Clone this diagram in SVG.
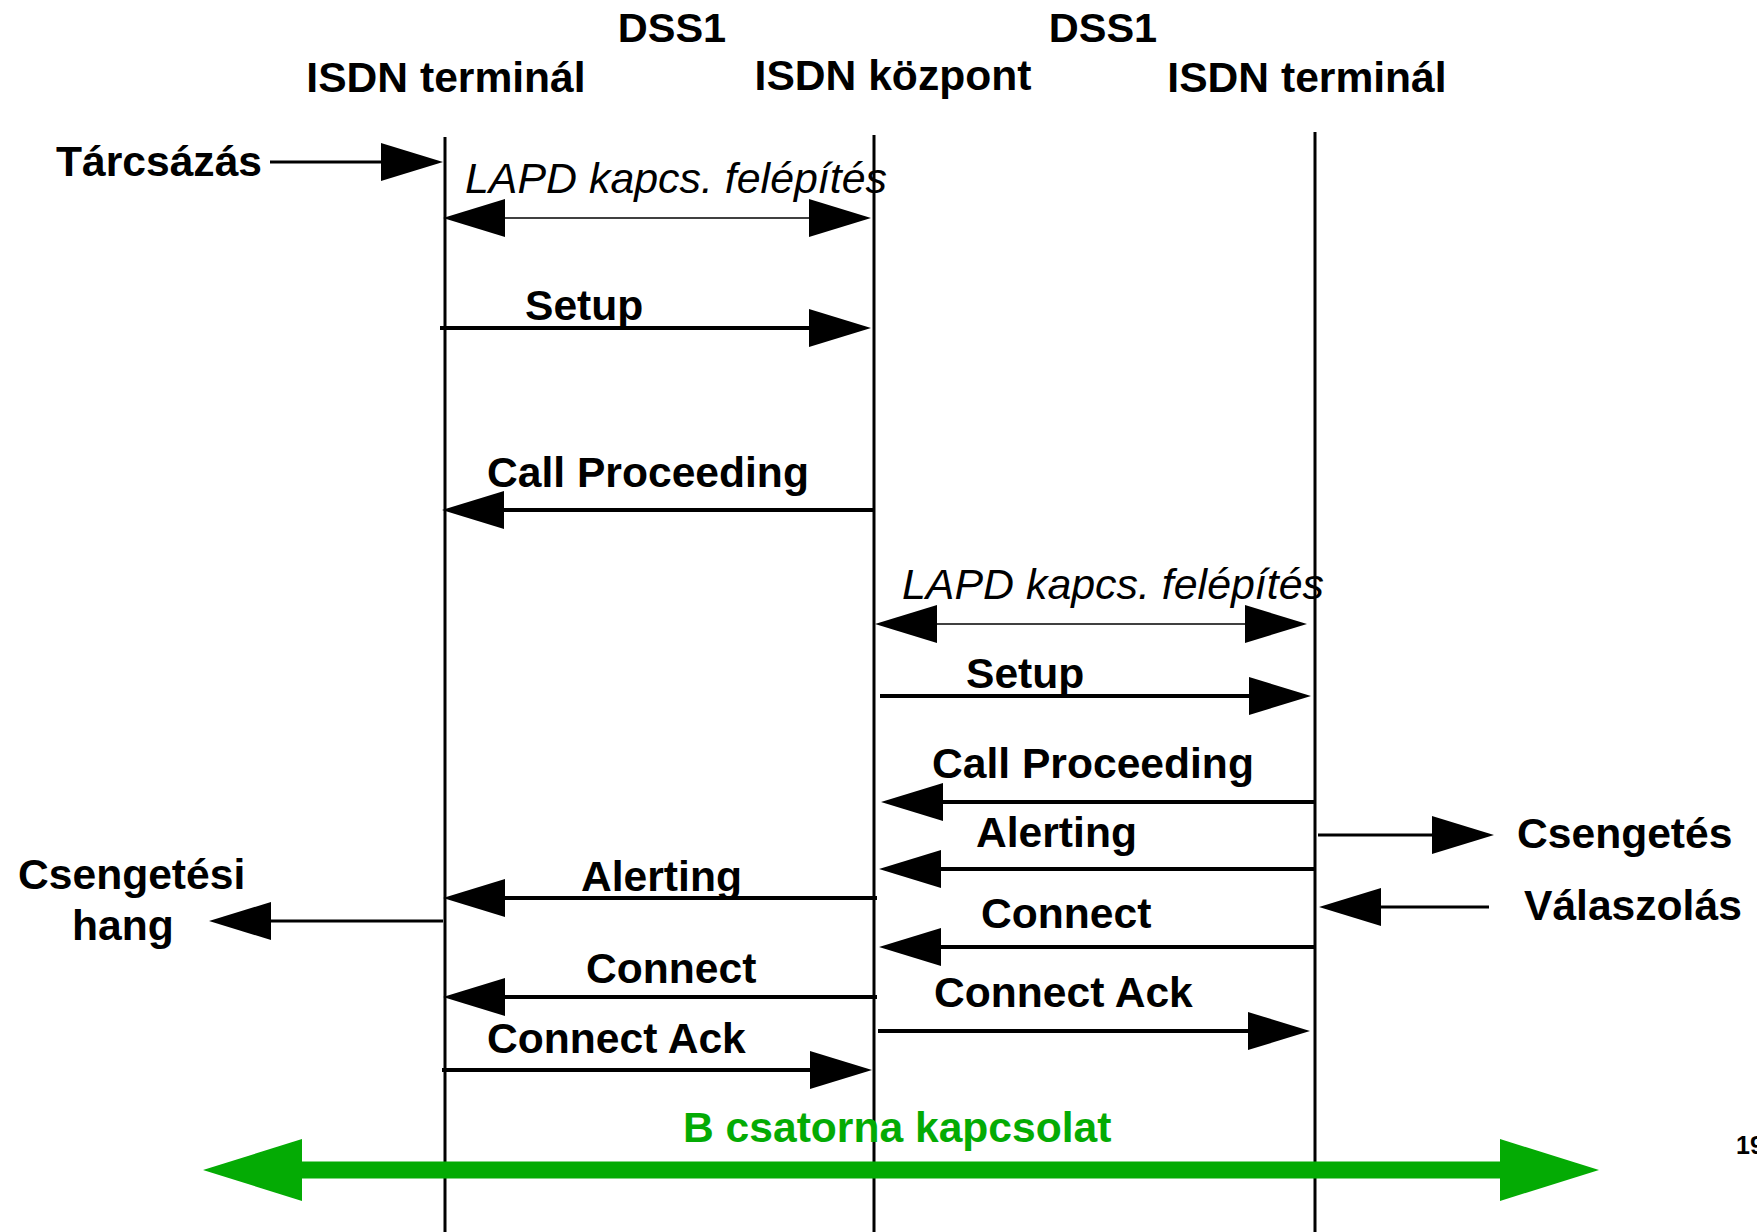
<svg xmlns="http://www.w3.org/2000/svg" width="1757" height="1232" viewBox="0 0 1757 1232">
<style>
text{font-family:"Liberation Sans",Arial,sans-serif;font-weight:bold;font-size:42.6px;fill:#000}
.t{font-size:41.5px}
.it{font-style:italic;font-weight:normal;font-size:42.9px}
.g{fill:#04AB04}
.life{stroke:#000;stroke-width:3;fill:none}
.msg{stroke:#000;stroke-width:4;fill:none;marker-end:url(#ah)}
.ext{stroke:#000;stroke-width:3;fill:none;marker-end:url(#ah)}
.lapd{stroke:#000;stroke-width:1.5;fill:none;marker-end:url(#ah);marker-start:url(#ahs)}
.bch{stroke:#04AB04;stroke-width:17;fill:none;marker-end:url(#gh);marker-start:url(#ghs)}
</style>
<defs>
<marker id="ah" markerUnits="userSpaceOnUse" viewBox="0 0 62 38" markerWidth="62" markerHeight="38" refX="1" refY="19" orient="auto"><path d="M0,0 L62,19 L0,38 Z" fill="#000"/></marker>
<marker id="ahs" markerUnits="userSpaceOnUse" viewBox="0 0 62 38" markerWidth="62" markerHeight="38" refX="1" refY="19" orient="auto-start-reverse"><path d="M0,0 L62,19 L0,38 Z" fill="#000"/></marker>
<marker id="gh" markerUnits="userSpaceOnUse" viewBox="0 0 99 62" markerWidth="99" markerHeight="62" refX="1" refY="31" orient="auto"><path d="M0,0 L99,31 L0,62 Z" fill="#04AB04"/></marker>
<marker id="ghs" markerUnits="userSpaceOnUse" viewBox="0 0 99 62" markerWidth="99" markerHeight="62" refX="1" refY="31" orient="auto-start-reverse"><path d="M0,0 L99,31 L0,62 Z" fill="#04AB04"/></marker>
</defs>
<rect width="1757" height="1232" fill="#fff"/>

<g id="node-terminal-a">
<text x="446" y="92" text-anchor="middle">ISDN terminál</text>
<line class="life" x1="445" y1="137" x2="445" y2="1232"/>
</g>
<g id="node-kozpont">
<text x="893" y="90" text-anchor="middle">ISDN központ</text>
<line class="life" x1="874" y1="135" x2="874" y2="1232"/>
</g>
<g id="node-terminal-b">
<text x="1307" y="92" text-anchor="middle">ISDN terminál</text>
<line class="life" x1="1315" y1="132" x2="1315" y2="1232"/>
</g>
<g id="label-dss1-a"><text class="t" x="672" y="42" text-anchor="middle">DSS1</text></g>
<g id="label-dss1-b"><text class="t" x="1103" y="42" text-anchor="middle">DSS1</text></g>

<g id="connectors">
<line class="ext" x1="270" y1="162" x2="382" y2="162"/>
<line class="lapd" x1="504" y1="218" x2="810" y2="218"/>
<line class="msg" x1="440" y1="328" x2="810" y2="328"/>
<line class="msg" x1="874" y1="510" x2="503" y2="510"/>
<line class="lapd" x1="936" y1="624" x2="1246" y2="624"/>
<line class="msg" x1="880" y1="696" x2="1250" y2="696"/>
<line class="msg" x1="1315" y1="802" x2="942" y2="802"/>
<line class="ext" x1="1318" y1="835" x2="1433" y2="835"/>
<line class="msg" x1="1315" y1="869" x2="940" y2="869"/>
<line class="msg" x1="877" y1="898" x2="504" y2="898"/>
<line class="ext" x1="1489" y1="907" x2="1380" y2="907"/>
<line class="ext" x1="443" y1="921" x2="270" y2="921"/>
<line class="msg" x1="1315" y1="947" x2="940" y2="947"/>
<line class="msg" x1="877" y1="997" x2="504" y2="997"/>
<line class="msg" x1="878" y1="1031" x2="1249" y2="1031"/>
<line class="msg" x1="442" y1="1070" x2="811" y2="1070"/>
<line class="bch" x1="301" y1="1170" x2="1501" y2="1170"/>
</g>

<g id="labels">
<text x="56" y="176">Tárcsázás</text>
<text class="it" x="465" y="193">LAPD kapcs. felépítés</text>
<text x="525" y="320">Setup</text>
<text x="487" y="487">Call Proceeding</text>
<text class="it" x="902" y="599">LAPD kapcs. felépítés</text>
<text x="966" y="688">Setup</text>
<text x="932" y="778">Call Proceeding</text>
<text x="976" y="847">Alerting</text>
<text x="1517" y="848">Csengetés</text>
<text x="18" y="889">Csengetési</text>
<text x="72" y="940">hang</text>
<text x="581" y="891">Alerting</text>
<text x="1524" y="920">Válaszolás</text>
<text x="981" y="928">Connect</text>
<text x="586" y="983">Connect</text>
<text x="934" y="1007">Connect Ack</text>
<text x="487" y="1053">Connect Ack</text>
<text class="g" x="683" y="1142">B csatorna kapcsolat</text>
<text x="1736" y="1154" style="font-size:25px">19</text>
</g>
</svg>
